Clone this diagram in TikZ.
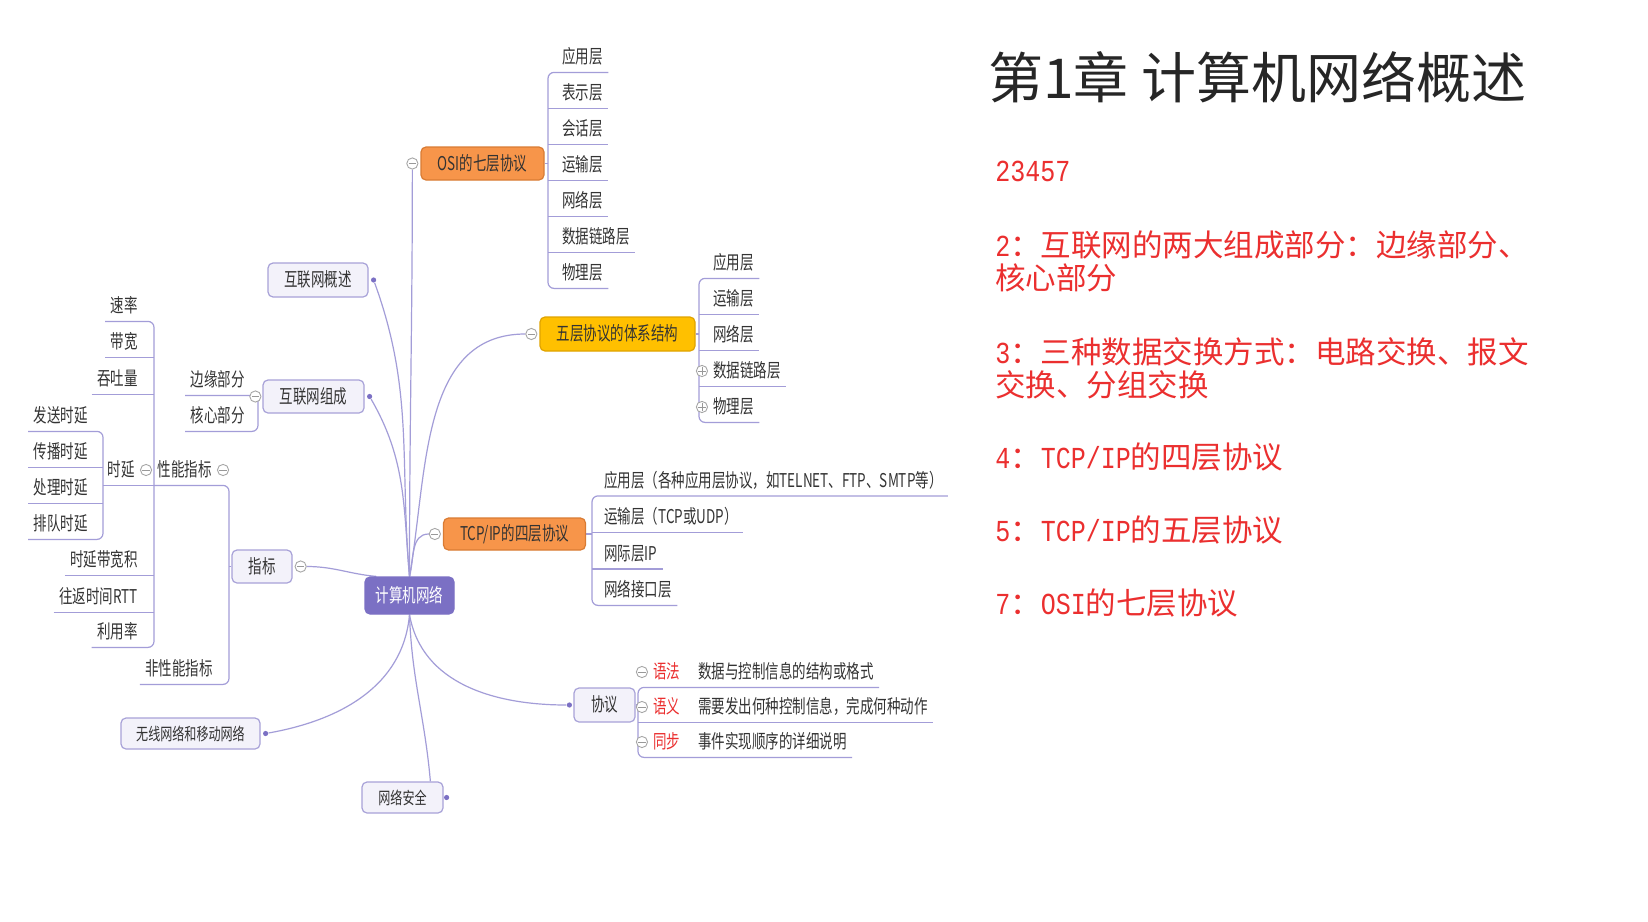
\documentclass[tikz,border=0pt]{standalone}
\usepackage{fontspec}
\usepackage{xcolor}
\usetikzlibrary{positioning, backgrounds}

\newfontfamily\mapfont[FakeStretch=0.71]{Noto Sans CJK SC}
\newfontfamily\cjkfont{Noto Sans CJK SC}
\newfontfamily\latinfont[FakeStretch=0.82]{Liberation Mono}

\definecolor{rootc}{HTML}{7B70C4}
\definecolor{linec}{HTML}{A39DD8}
\definecolor{lightc}{HTML}{F3F2FA}
\definecolor{edgec}{HTML}{A8A2D8}
\definecolor{osic}{HTML}{F7954A}
\definecolor{osiedge}{HTML}{D97B33}
\definecolor{fivec}{HTML}{FFC000}
\definecolor{fiveedge}{HTML}{E0A300}
\definecolor{notec}{HTML}{EB2F2F}
\definecolor{mapgray}{HTML}{333333}

\begin{document}
\begin{tikzpicture}[x=0.5pt, y=-0.5pt,
    mapnode/.style={font=\mapfont\fontsize{9.5}{11}\selectfont, text=mapgray,
      text height=8pt, text depth=1.5pt},
    smallmap/.style={font=\mapfont\fontsize{8.5}{10}\selectfont},
    box/.style={mapnode, rounded corners=2.5pt, line width=0.6pt, inner sep=0pt,
      minimum height=16.5pt},
    rootbox/.style={box, draw=rootc, fill=rootc, text=white,
      minimum width=44.5pt, minimum height=18.5pt},
    topicbox/.style={box, draw=edgec, fill=lightc},
    osibox/.style={box, draw=osiedge, fill=osic},
    fivebox/.style={box, draw=fiveedge, fill=fivec},
    leaf/.style={mapnode, inner xsep=2.5pt, inner ysep=2.75pt},
    branch/.style={draw=linec, line width=0.6pt},
    fold/.style={circle, draw=gray!70, fill=white, minimum size=5.6pt, inner sep=0pt,
      line width=0.45pt, path picture={\draw[gray!80, line width=0.45pt]
        ([xshift=1pt]path picture bounding box.west) --
        ([xshift=-1pt]path picture bounding box.east);}},
    unfold/.style={fold, path picture={\draw[gray!80, line width=0.45pt]
        ([xshift=1pt]path picture bounding box.west) --
        ([xshift=-1pt]path picture bounding box.east)
        ([yshift=-1pt]path picture bounding box.north) --
        ([yshift=1pt]path picture bounding box.south);}},
    dot/.style={circle, fill=rootc, minimum size=2.6pt, inner sep=0pt},
    note/.style={font=\cjkfont\fontsize{15.25}{16.5}\selectfont, text=notec,
      anchor=base west, align=left, inner sep=0pt}]

  \useasboundingbox (0,0) rectangle (1648,921);

  % title and notes
  \node[anchor=base west, inner sep=0pt, text=black!85,
    font=\cjkfont\fontsize{27.5}{30}\selectfont] (title) at (988,98) {第1章 计算机网络概述};
  \node[note] (n0) at (995,181) {\latinfont 23457};
  \node[note] (n2) at (995,289) {{\latinfont 2}：互联网的两大组成部分：边缘部分、\\核心部分};
  \node[note] (n3) at (995,396) {{\latinfont 3}：三种数据交换方式：电路交换、报文\\交换、分组交换};
  \node[note] (n4) at (995,468) {{\latinfont 4}：{\latinfont TCP/IP}的四层协议};
  \node[note] (n5) at (995,541) {{\latinfont 5}：{\latinfont TCP/IP}的五层协议};
  \node[note] (n7) at (995,614) {{\latinfont 7}：{\latinfont OSI}的七层协议};

  % main topics
  \node[rootbox] (root) at (409.5,595.5) {计算机网络};
  \node[osibox, minimum width=61.5pt] (osi) at (482.5,163.5) {OSI的七层协议};
  \node[fivebox, minimum width=77.5pt, minimum height=17pt] (five) at (617.5,334) {五层协议的体系结构};
  \node[osibox, minimum width=71pt, minimum height=16pt] (tcp) at (514.5,534) {TCP/IP的四层协议};
  \node[topicbox, minimum width=30.5pt, minimum height=17pt] (xy) at (604.5,705) {协议};
  \node[topicbox, smallmap, minimum width=40.5pt, minimum height=15.5pt] (aq) at (402.5,797.5) {网络安全};
  \node[topicbox, smallmap, minimum width=69.5pt, minimum height=15.5pt] (wx) at (190.5,733.5) {无线网络和移动网络};
  \node[topicbox, minimum width=30pt] (zb) at (262,566.5) {指标};
  \node[topicbox, minimum width=50pt, minimum height=17pt] (gs) at (318,280) {互联网概述};
  \node[topicbox, minimum width=50.5pt] (hz) at (313.5,396.5) {互联网组成};

  \node[fold, left=1pt of osi] (osiF) {};
  \node[fold, left=1pt of five] (fiveF) {};
  \node[fold, left=1pt of tcp] (tcpF) {};
  \node[fold, right=1pt of zb] (zbF) {};
  \node[fold, left=0.5pt of hz] (hzF) {};
  \node[dot, right=1pt of gs] (gsD) {};
  \node[dot, right=1pt of hz] (hzD) {};
  \node[dot, right=1pt of wx] (wxD) {};
  \node[dot, left=0.5pt of xy] (xyD) {};
  \node[dot, right=0pt of aq] (aqD) {};

  % leaves on the right
  \coordinate (osiB) at (548,0);
  \foreach \t [count=\i] in {应用层,表示层,会话层,运输层,网络层,数据链路层,物理层}
    \node[leaf, anchor=west] (osi\i) at (557,21+36*\i) {\t};

  \coordinate (fiveB) at (699,0);
  \foreach \t [count=\i] in {应用层,运输层,网络层,数据链路层,物理层}
    \node[leaf, anchor=west] (five\i) at (708,227+36*\i) {\t};
  \node[unfold, left=0pt of five4] (five4F) {};
  \node[unfold, left=0pt of five5] (five5F) {};

  \coordinate (tcpB) at (592,0);
  \foreach \t [count=\i] in {应用层（各种应用层协议，如TELNET、FTP、SMTP等）,
      运输层（TCP或UDP）,网际层IP,网络接口层}
    \node[leaf, anchor=west] (tcp\i) at (599,444+36.5*\i) {\t};

  \coordinate (xyB) at (638,0);
  \foreach \a/\b [count=\i] in {语法/数据与控制信息的结构或格式,
      语义/需要发出何种控制信息，完成何种动作,同步/事件实现顺序的详细说明} {
    \node[leaf, anchor=west, text=notec] (xy\i) at (648,637+35*\i) {\a};
    \node[leaf, anchor=west] (xyd\i) at (693,637+35*\i) {\b};
    \node[fold, left=0pt of xy\i] (xyF\i) {};
  }

  % leaves on the left
  \coordinate (hzB) at (258,0);
  \node[leaf, anchor=east] (hz1) at (250,380) {边缘部分};
  \node[leaf, anchor=east] (hz2) at (250,416) {核心部分};

  \coordinate (zbB) at (229,0);
  \node[leaf, anchor=east] (xn) at (217,470) {性能指标};
  \node[fold, right=0pt of xn] (xnF) {};
  \node[leaf, anchor=east] (fxn) at (218,669) {非性能指标};

  \coordinate (xnB) at (154,0);
  \foreach \t/\y [count=\i] in {速率/306,带宽/342,吞吐量/379}
    \node[leaf, anchor=east] (xn\i) at (143,\y) {\t};
  \node[leaf, anchor=east] (sy) at (140,470) {时延};
  \node[fold, right=0pt of sy] (syF) {};
  \foreach \t/\y [count=\i from 4] in {时延带宽积/560,往返时间RTT/597,利用率/632}
    \node[leaf, anchor=east] (xn\i) at (143,\y) {\t};

  \coordinate (syB) at (103,0);
  \foreach \t [count=\i] in {发送时延,传播时延,处理时延,排队时延}
    \node[leaf, anchor=east] (sy\i) at (93,380+36*\i) {\t};

  \begin{scope}[on background layer]
    \fill[white] (0,0) rectangle (1648,921);

    \draw[branch] (root.north) to[out=90,in=-90] (osiF.south);
    \draw[branch] (root.north) to[out=95,in=-70] (gsD);
    \draw[branch] (root.north) to[out=95,in=-60] (hzD);
    \draw[branch] (root.north) to[out=80,in=180] (fiveF);
    \draw[branch] (root.north) to[out=75,in=180] (tcpF);
    \draw[branch] (root.150) to[out=175,in=0] (zbF);
    \draw[branch] (root.south) to[out=-95,in=10] (wxD);
    \draw[branch] (root.south) to[out=-80,in=180] (xyD);
    \draw[branch] (root.south) to[out=-88,in=95] (aq.30);

    \draw[branch] (osi.east) -- (osiB |- osi.east);
    \draw[branch, rounded corners=3pt] (osi1.south east) -- (osiB |- osi1.south)
      -- (osiB |- osi7.south) -- (osi7.south east);
    \foreach \i in {2,...,6}
      \draw[branch] (osiB |- osi\i.south) -- (osi\i.south east);

    \draw[branch] (five.east) -- (fiveB |- five.east);
    \draw[branch, rounded corners=3pt] (five1.south east) -- (fiveB |- five1.south)
      -- (fiveB |- five5.south) -- (five5.south east);
    \foreach \i in {2,3,4}
      \draw[branch] (fiveB |- five\i.south) -- (five\i.south east);

    \draw[branch] (tcp.east) -- (tcpB |- tcp.east);
    \draw[branch, rounded corners=3pt] (tcp1.south east) -- (tcpB |- tcp1.south)
      -- (tcpB |- tcp4.south) -- (tcp4.south east);
    \foreach \i in {2,3}
      \draw[branch] (tcpB |- tcp\i.south) -- (tcp\i.south east);

    \draw[branch] (xy.east) -- (xyB |- xy.east);
    \draw[branch, rounded corners=3pt] (xyd1.south east) -- (xyB |- xy1.south)
      -- (xyB |- xy3.south) -- (xyd3.south east);
    \draw[branch] (xyB |- xy2.south) -- (xyd2.south east);

    \draw[branch, rounded corners=3pt] (hz1.south west) -- (hzB |- hz1.south)
      -- (hzB |- hz2.south) -- (hz2.south west);

    \draw[branch] (zb.west) -- (zbB |- zb.west);
    \draw[branch, rounded corners=3pt] (xnB |- xn.south) -- (zbB |- xn.south)
      -- (zbB |- fxn.south) -- (fxn.south west);

    \draw[branch] (syB |- sy.south) -- (xnB |- sy.south);
    \draw[branch, rounded corners=3pt] (xn1.south west) -- (xnB |- xn1.south)
      -- (xnB |- xn6.south) -- (xn6.south west);
    \foreach \i in {2,...,5}
      \draw[branch] (xn\i.south west) -- (xnB |- xn\i.south);

    \draw[branch, rounded corners=3pt] (sy1.south west) -- (syB |- sy1.south)
      -- (syB |- sy4.south) -- (sy4.south west);
    \foreach \i in {2,3}
      \draw[branch] (sy\i.south west) -- (syB |- sy\i.south);
  \end{scope}
\end{tikzpicture}
\end{document}
